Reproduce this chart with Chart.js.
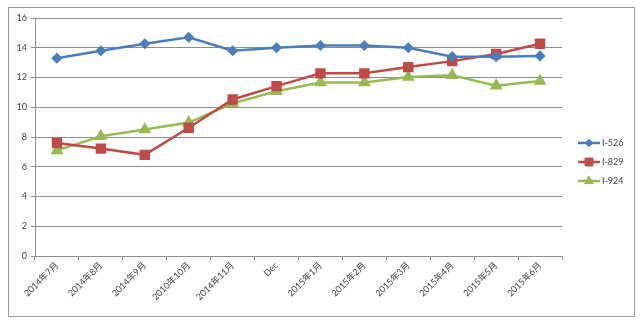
<!DOCTYPE html>
<html>
<head>
<meta charset="utf-8">
<script src="https://cdn.jsdelivr.net/npm/chart.js@4/dist/chart.umd.min.js"></script>
<style>
  html, body { margin: 0; padding: 0; background: #fff; }
  #wrap { width: 640px; height: 324px; position: relative; }
</style>
</head>
<body>
<div id="wrap"><canvas id="chart"></canvas></div>
<script>
// Monthly values per sample
const months = ['2014年7月', '2014年8月', '2014年9月', '2010年10月', '2014年11月', 'Dec',
                '2015年1月', '2015年2月', '2015年3月', '2015年4月', '2015年5月', '2015年6月'];
const seriesNames = ['I-526', 'I-829', 'I-924'];
const i526 = [13.3, 13.8, 14.27, 14.7, 13.8, 14.0, 14.15, 14.15, 14.0, 13.4, 13.4, 13.45];
const i829 = [7.6, 7.22, 6.8, 8.62, 10.52, 11.42, 12.28, 12.28, 12.7, 13.1, 13.58, 14.27];
const i924 = [7.1, 8.05, 8.5, 8.97, 10.26, 11.08, 11.66, 11.67, 12.03, 12.15, 11.45, 11.76];
const yTicks = [0, 2, 4, 6, 8, 10, 12, 14, 16];

const FONT = "Lato, 'Noto Sans CJK SC', sans-serif";
const TEXT = '#404040';
const GRID = '#8c8c8c';

// outer frame around the whole chart
const framePlugin = {
    id: 'frame',
    afterDraw(chart) {
        const ctx = chart.ctx;
        ctx.save();
        ctx.strokeStyle = '#9a9a9a';
        ctx.lineWidth = 1;
        ctx.strokeRect(8.5, 7.5, 626, 309);
        ctx.restore();
    }
};

// legend on the right: line sample with marker, then label
const sideLegend = {
    id: 'sideLegend',
    afterDraw(chart) {
        const ctx = chart.ctx;
        const x0 = 578, x1 = 600, top = 143, step = 19;
        ctx.save();
        chart.data.datasets.forEach((ds, i) => {
            const y = top + i * step;
            ctx.strokeStyle = ds.borderColor;
            ctx.lineWidth = 2.5;
            ctx.beginPath();
            ctx.moveTo(x0, y);
            ctx.lineTo(x1, y);
            ctx.stroke();
            ctx.fillStyle = ds.pointBackgroundColor;
            ctx.strokeStyle = ds.pointBorderColor;
            ctx.lineWidth = 1;
            Chart.helpers.drawPoint(ctx, {
                pointStyle: ds.pointStyle,
                radius: ds.pointRadius,
                borderWidth: 1
            }, (x0 + x1) / 2, y);
            ctx.fillStyle = TEXT;
            ctx.font = '9px ' + FONT;
            ctx.textBaseline = 'middle';
            ctx.textAlign = 'left';
            ctx.fillText(ds.label, x1 + 2, y);
        });
        ctx.restore();
    }
};

function makeSet(label, data, color, style, radius) {
    return {
        label, data,
        borderColor: color,
        backgroundColor: color,
        pointBackgroundColor: color,
        pointBorderColor: color,
        pointStyle: style,
        pointRadius: radius,
        pointHoverRadius: radius,
        borderWidth: 2.5,
        tension: 0,
        fill: false
    };
}

new Chart(document.getElementById('chart'), {
    type: 'line',
    data: {
        labels: months,
        datasets: [
            makeSet(seriesNames[0], i526, '#4a7ebb', 'rectRot', 3.8),
            makeSet(seriesNames[1], i829, '#be4b48', 'rect', 5.6),
            makeSet(seriesNames[2], i924, '#98b954', 'triangle', 5)
        ]
    },
    options: {
        responsive: true,
        maintainAspectRatio: false,
        animation: false,
        layout: { padding: { left: 8, top: 18, right: 78, bottom: 8 } },
        plugins: {
            legend: { display: false },
            tooltip: { enabled: false }
        },
        scales: {
            x: {
                offset: true,
                grid: {
                    offset: true,
                    drawOnChartArea: false,
                    drawTicks: true,
                    tickLength: 4,
                    color: GRID
                },
                border: { color: GRID },
                ticks: {
                    autoSkip: false,
                    minRotation: 45,
                    maxRotation: 45,
                    padding: 0,
                    color: TEXT,
                    font: { family: FONT, size: 9 }
                },
                afterFit: s => { s.height = 60; }
            },
            y: {
                min: 0,
                max: 16,
                afterBuildTicks: s => { s.ticks = yTicks.map(v => ({ value: v })); },
                grid: {
                    color: GRID,
                    drawTicks: true,
                    tickLength: 4
                },
                border: { color: GRID },
                ticks: {
                    padding: 4,
                    color: TEXT,
                    font: { family: FONT, size: 9 }
                },
                afterFit: s => { s.width = 27; }
            }
        }
    },
    plugins: [framePlugin, sideLegend]
});
</script>
</body>
</html>
